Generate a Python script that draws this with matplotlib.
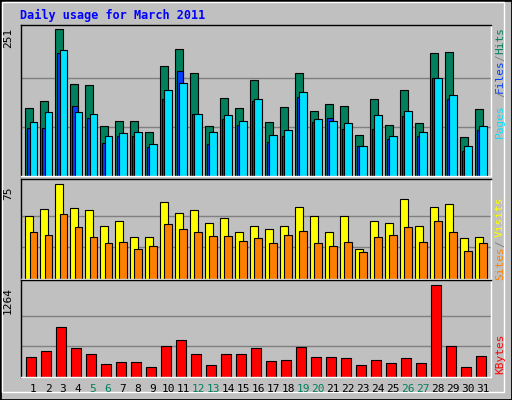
import matplotlib
matplotlib.use("Agg")
import matplotlib.pyplot as plt
from matplotlib.patches import Rectangle
import numpy as np

days = list(range(1, 32))
weekend = [5, 6, 12, 13, 19, 20, 26, 27]
hits = [117, 128, 251, 157, 155, 85, 95, 94, 75, 189, 217, 176, 85, 133, 116, 164,
        92, 118, 176, 112, 123, 119, 70, 131, 87, 147, 90, 210, 213, 66, 114]
files = [83, 83, 210, 119, 99, 56, 68, 68, 49, 131, 179, 107, 54, 97, 88, 128,
         59, 68, 135, 92, 99, 80, 51, 80, 63, 102, 68, 167, 131, 42, 78]
pages = [92, 109, 215, 109, 107, 68, 73, 76, 54, 148, 160, 107, 75, 104, 95, 131,
         70, 78, 143, 97, 95, 90, 51, 104, 68, 112, 75, 167, 138, 52, 85]
visits = [50, 55, 75, 56, 54, 42, 46, 33, 33, 61, 52, 54, 44, 48, 37, 42,
          39, 42, 57, 50, 37, 50, 24, 46, 44, 63, 42, 57, 59, 32, 33]
sites = [37, 35, 51, 41, 33, 28, 29, 24, 26, 43, 39, 37, 34, 34, 30, 32,
         28, 35, 38, 28, 26, 29, 21, 33, 35, 41, 29, 46, 37, 22, 28]
kbytes = [278, 361, 694, 403, 319, 181, 208, 208, 139, 431, 514, 319, 167, 319, 319, 403,
          222, 236, 417, 278, 278, 264, 167, 236, 194, 264, 194, 1264, 431, 139, 292]

BG = "#C0C0C0"
FONT = "DejaVu Sans Mono"
plt.rcParams["font.family"] = FONT

fig = plt.figure(figsize=(5.12, 4.0), dpi=100, facecolor=BG)
W, H = 512, 400
fig.patches.append(Rectangle((0, 0), 1, 1, transform=fig.transFigure, fill=False,
                             edgecolor="black", lw=2))
fig.patches.append(Rectangle((2/W, 8/H), (W-10)/W, (H-10)/H, transform=fig.transFigure,
                             fill=False, edgecolor="white", lw=1))
fig.text(20/W, 1 - 15/H, "Daily usage for March 2011", color="#0000FF",
         fontsize=8.5, fontweight="bold", va="center", ha="left")

def mkax(top, bottom):
    ax = fig.add_axes([21/W, 1 - bottom/H, 470/W, (bottom - top)/H])
    ax.set_facecolor(BG)
    ax.set_xlim(0.18, 31.53)
    ax.set_xticks([]); ax.set_yticks([])
    for s in ax.spines.values():
        s.set_color("black"); s.set_linewidth(1)
    ax.spines["right"].set_color("white")
    ax.spines["bottom"].set_color("white")
    return ax

def rlabel(y, s, c):
    fig.text(500/W, 1 - y/H, s, rotation=90, color=c, fontsize=8, ha="center", va="center")

x = np.array(days)
kw = dict(edgecolor="black", linewidth=0.8)

ax1 = mkax(25, 176)
mx = max(hits)
ax1.set_ylim(0, mx * 1.03)
for g in (mx / 3, mx * 2 / 3):
    ax1.axhline(g, color="#808080", lw=1, zorder=0)
ax1.bar(x - 0.275, hits, width=0.49, color="#00805C", **kw)
ax1.bar(x - 0.21, files, width=0.42, color="#0040FF", **kw)
ax1.bar(x, pages, width=0.5, color="#00E0FF", **kw)
fig.text(8/W, 1 - 38/H, str(mx), rotation=90, fontsize=8, ha="center", va="center")
rlabel(40, "Hits", "#00805C")
rlabel(58, "/", "#808080")
rlabel(76, "Files", "#0040FF")
rlabel(94, "/", "#808080")
rlabel(121, "Pages", "#00E0FF")

ax2 = mkax(179, 279)
mv = max(visits)
ax2.set_ylim(0, mv * 1.05)
for g in (mv / 3, mv * 2 / 3):
    ax2.axhline(g, color="#808080", lw=1, zorder=0)
ax2.bar(x - 0.275, visits, width=0.49, color="#FFFF00", **kw)
ax2.bar(x, sites, width=0.5, color="#FF8000", **kw)
fig.text(8/W, 1 - 193/H, str(mv), rotation=90, fontsize=8, ha="center", va="center")
rlabel(217, "Visits", "#FFFF00")
rlabel(244, "/", "#808080")
rlabel(263, "Sites", "#FF8000")

ax3 = mkax(280, 377)
mk = max(kbytes)
ax3.set_ylim(0, mk * 1.06)
for g in (mk / 3, mk * 2 / 3):
    ax3.axhline(g, color="#808080", lw=1, zorder=0)
ax3.bar(x - 0.13, kbytes, width=0.67, color="#FF0000", **kw)
fig.text(8/W, 1 - 300/H, str(mk), rotation=90, fontsize=8, ha="center", va="center")
rlabel(354, "KBytes", "#FF0000")

for d in days:
    xp = 33 + (d - 1) * 15
    fig.text(xp/W, 1 - 389/H, str(d), fontsize=8, ha="center", va="center",
             color="#00805C" if d in weekend else "black")

fig.savefig("out.png", dpi=100, facecolor=BG)
